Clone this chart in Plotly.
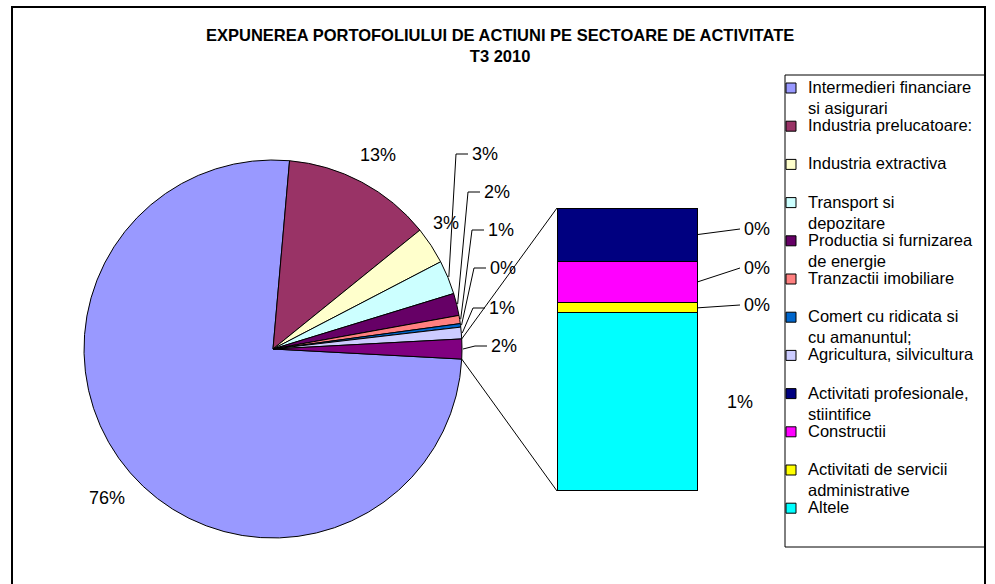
import math
import plotly.graph_objects as go

# ---------------- data ----------------
pie_categories = [
    "Intermedieri financiare\nsi asigurari",
    "Industria prelucatoare:",
    "Industria extractiva",
    "Transport si\ndepozitare",
    "Productia si furnizarea\nde energie",
    "Tranzactii imobiliare",
    "Comert cu ridicata si\ncu amanuntul;",
    "Agricultura, silvicultura",
]
pie_values = [75.7, 12.8, 3.2, 2.9, 1.9, 0.7, 0.3, 1.0]

bar_categories = [
    "Activitati profesionale,\nstiintifice",
    "Constructii",
    "Activitati de servicii\nadministrative",
    "Altele",
]
bar_values = [0.32, 0.25, 0.06, 1.07]

title_lines = ["EXPUNEREA PORTOFOLIULUI DE ACTIUNI PE SECTOARE DE ACTIVITATE", "T3 2010"]

# ---------------- styles ----------------
pie_colors = ["#9999FF", "#993366", "#FFFFCC", "#CCFFFF", "#660066", "#FF8080", "#0066CC", "#CCCCFF"]
bar_colors = ["#000080", "#FF00FF", "#FFFF00", "#00FFFF"]
OTHER_COLOR = "#800080"
FONT = "Liberation Sans, Arial, sans-serif"

W, H = 995, 584


def fx(px):
    return px / W


def fy(py):
    return 1 - py / H


PIE_CX, PIE_CY, PIE_R = 273, 349, 189
BAR_X0, BAR_X1, BAR_TOP, BAR_BOT = 557, 697, 208, 491

other_total = sum(bar_values)
grand_total = sum(pie_values) + other_total


def pct(v):
    return f"{int(v / grand_total * 100 + 0.5)}%"


fig = go.Figure()

rotation = 90 + other_total / grand_total * 180
fig.add_trace(go.Pie(
    labels=[c.replace("\n", " ") for c in pie_categories] + ["Alte sectoare"],
    values=pie_values + [other_total],
    marker=dict(colors=pie_colors + [OTHER_COLOR], line=dict(color="black", width=1)),
    sort=False, direction="clockwise", rotation=rotation,
    textinfo="none", showlegend=False,
    domain=dict(x=[fx(PIE_CX - PIE_R), fx(PIE_CX + PIE_R)],
                y=[fy(PIE_CY + PIE_R), fy(PIE_CY - PIE_R)]),
))

# ---- stacked bar (pie of bar) ----
k = (BAR_BOT - BAR_TOP) / other_total  # px per unit
xpad = 0.02
ypad = other_total * 0.01
bw = BAR_X1 - BAR_X0
for cat, val, col in reversed(list(zip(bar_categories, bar_values, bar_colors))):
    fig.add_trace(go.Bar(
        x=[0], y=[val], width=1, name=cat.replace("\n", " "),
        marker=dict(color=col, line=dict(color="black", width=1)),
        showlegend=False, xaxis="x", yaxis="y",
    ))

fig.update_layout(
    barmode="stack",
    xaxis=dict(domain=[fx(BAR_X0 - bw * xpad), fx(BAR_X1 + bw * xpad)],
               range=[-0.5 - xpad, 0.5 + xpad], visible=False, fixedrange=True),
    yaxis=dict(domain=[fy(BAR_BOT + ypad * k), fy(BAR_TOP - ypad * k)],
               range=[-ypad, other_total + ypad], visible=False, fixedrange=True),
)

shapes = []
annotations = []
LINE = dict(color="black", width=1)


def line(x0, y0, x1, y1, width=1):
    shapes.append(dict(type="line", xref="paper", yref="paper",
                       x0=fx(x0), y0=fy(y0), x1=fx(x1), y1=fy(y1),
                       line=dict(color="black", width=width)))


def text(x, y, t, size=18, xanchor="center", bold=False, yanchor="middle"):
    annotations.append(dict(x=fx(x), y=fy(y), xref="paper", yref="paper", text=t,
                            showarrow=False, xanchor=xanchor, yanchor=yanchor,
                            font=dict(family=FONT, size=size, color="black")))


def circ(angle_deg, r=PIE_R):
    a = math.radians(angle_deg)
    return PIE_CX + r * math.sin(a), PIE_CY - r * math.cos(a)


# slice angles (clockwise from 12 o'clock)
angles = []
cur = rotation
for v in pie_values + [other_total]:
    span = v / grand_total * 360
    angles.append((cur, cur + span))
    cur += span

# pie label layout: plain labels (center) or leader labels (elbow point)
pie_label_layout = [
    dict(x=107, y=498),
    dict(x=378, y=155),
    dict(x=446, y=223),
    dict(x=456, y=154, leader=True),
    dict(x=468, y=192, leader=True),
    dict(x=472, y=230, leader=True),
    dict(x=474, y=268, leader=True),
    dict(x=473, y=308, leader=True),
    dict(x=475, y=346, leader=True),
]
for i, (v, lay) in enumerate(zip(pie_values + [other_total], pie_label_layout)):
    if lay.get("leader"):
        a0, a1 = angles[i]
        sx, sy = circ((a0 + a1) / 2, PIE_R + 1)
        line(sx, sy, lay["x"], lay["y"])
        line(lay["x"], lay["y"], lay["x"] + 12, lay["y"])
        text(lay["x"] + 14, lay["y"], pct(v), xanchor="left")
    else:
        text(lay["x"], lay["y"], pct(v))

# connector lines pie -> bar
ox0, oy0 = circ(angles[-1][0])
ox1, oy1 = circ(angles[-1][1])
line(ox0, oy0, BAR_X0, BAR_TOP)
line(ox1, oy1, BAR_X0, BAR_BOT)

# bar labels
bar_label_y = [229, 268, 305, None]
top = other_total
for v, ly in zip(bar_values, bar_label_y):
    mid = BAR_BOT - (top - v / 2) * k
    top -= v
    if ly is None:
        text(740, mid, pct(v))
    else:
        line(BAR_X1, mid, 740, ly)
        text(742, ly, pct(v), xanchor="left")

# title
text(500, 46, "<br>".join(f"<b>{t}</b>" for t in title_lines), size=16.5)

# legend (custom box)
shapes.append(dict(type="rect", xref="paper", yref="paper",
                   x0=fx(785), y0=fy(547), x1=fx(985), y1=fy(75),
                   line=dict(color="black", width=1), fillcolor="white", layer="below"))
legend_items = list(zip(pie_categories + bar_categories, pie_colors + bar_colors))
LEG_Y0, LEG_DY = 87, 38.2
for i, (cat, col) in enumerate(legend_items):
    yc = LEG_Y0 + i * LEG_DY
    shapes.append(dict(type="rect", xref="paper", yref="paper",
                       x0=fx(786), x1=fx(796), y0=fy(yc + 6), y1=fy(yc - 4),
                       line=dict(color="black", width=1), fillcolor=col))
    annotations.append(dict(x=fx(806), y=fy(yc - 11), xref="paper", yref="paper",
                            text=cat.replace("\n", "<br>"), showarrow=False,
                            xanchor="left", yanchor="top", align="left",
                            font=dict(family=FONT, size=16.5, color="black")))

# outer frame
shapes.append(dict(type="rect", xref="paper", yref="paper",
                   x0=fx(12), y0=fy(600), x1=fx(985), y1=fy(7),
                   line=dict(color="black", width=2), fillcolor="rgba(0,0,0,0)"))

fig.update_layout(
    width=W, height=H, margin=dict(l=0, r=0, t=0, b=0),
    paper_bgcolor="white", plot_bgcolor="rgba(0,0,0,0)",
    shapes=shapes, annotations=annotations, showlegend=False,
    font=dict(family=FONT),
)

fig.write_html("out.html", config={"displayModeBar": False},
               post_script="document.body.style.margin='0px';")
